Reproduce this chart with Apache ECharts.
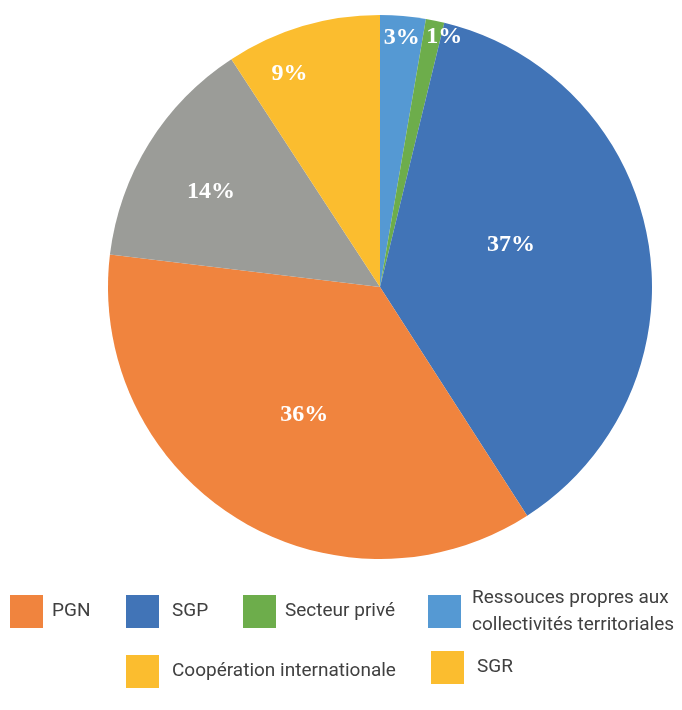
<!DOCTYPE html>
<html>
<head>
<meta charset="utf-8">
<script src="https://cdn.jsdelivr.net/npm/echarts@6/dist/echarts.min.js"></script>
<style>html,body{margin:0;padding:0;background:#fff;}#c{width:682px;height:710px;}</style>
</head>
<body>
<div id="c"></div>
<script>
// Data (clockwise from 12 o'clock)
var categories = ['Ressouces propres aux collectivités territoriales', 'Secteur privé', 'SGP', 'PGN', 'Coopération internationale', 'SGR'];
var values = [2.7, 1.1, 37.1, 36.0, 13.9, 9.2];
var sliceColors = ['#5599D3', '#6DAD4B', '#4174B7', '#F0843E', '#9B9C98', '#FBBD2F'];
var labelOffsets = [[10, -111], [36, -114], [-6, -19], [-2, 10], [-51, -22], [-51, -80]];
var legendOrder = ['PGN', 'SGP', 'Secteur privé', 'Ressouces propres aux collectivités territoriales', 'Coopération internationale', 'SGR'];
var legendColors = ['#F0843E', '#4174B7', '#6DAD4B', '#5599D3', '#FBBD2F', '#FBBD2F'];
var legendPos = [[10, 595, 9], [126, 595, 13], [243, 595, 9], [428, 595, 11], [126, 655, 13], [431, 651, 13]];

var chart = echarts.init(document.getElementById('c'), null, {renderer: 'canvas'});

var data = categories.map(function (n, i) {
  return {
    name: n,
    value: values[i],
    itemStyle: {color: sliceColors[i]},
    label: {offset: labelOffsets[i]}
  };
});

var LH = 27;
var DOWN = 5; // extra top padding to lower text slightly
var legends = legendOrder.map(function (n, i) {
  var p = legendPos[i];
  var multi = n.indexOf('Ressouces') === 0;
  var boxH = multi ? (LH * 3 + DOWN) : (LH + DOWN);
  var shift = Math.max(0, boxH / 2 - 33 / 2);
  return {
    left: p[0], top: p[1] - shift, padding: 0, orient: 'horizontal',
    icon: 'rect', itemWidth: 33, itemHeight: 33,
    selectedMode: false,
    data: [{name: n, itemStyle: {color: legendColors[i]}}],
    formatter: multi ? function () { return 'Ressouces propres aux\ncollectivités territoriales'; } : undefined,
    textStyle: {
      fontFamily: 'Roboto', fontSize: 19, color: '#404040',
      lineHeight: LH,
      padding: multi ? [LH + DOWN, 0, 0, p[2] - 5] : [DOWN, 0, 0, p[2] - 5]
    }
  };
});

chart.setOption({
  animation: false,
  legend: legends,
  series: [{
    type: 'pie',
    center: [380, 287],
    radius: 272,
    startAngle: 90,
    clockwise: true,
    avoidLabelOverlap: false,
    emphasis: {disabled: true},
    itemStyle: {borderWidth: 0},
    label: {
      show: true,
      position: 'inside',
      color: '#ffffff',
      fontFamily: 'Liberation Serif',
      fontWeight: 'bold',
      fontSize: 24,
      formatter: function (p) { return Math.round(p.value) + '%'; }
    },
    labelLine: {show: false},
    data: data
  }]
});
</script>
</body>
</html>
